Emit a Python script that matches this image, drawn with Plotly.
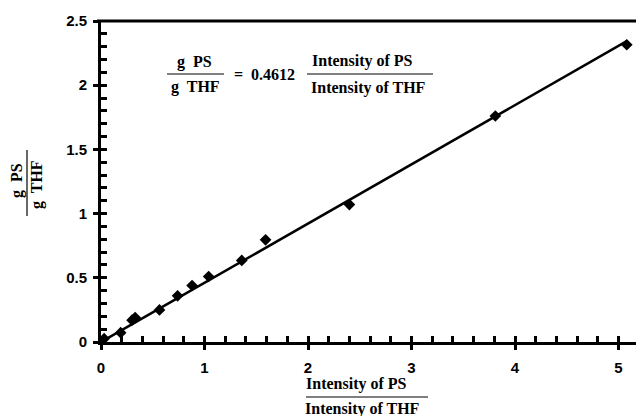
import plotly.graph_objects as go

# Data
x_ratio = [0.03, 0.19, 0.30, 0.33, 0.565, 0.74, 0.88, 1.04, 1.36, 1.59, 2.40, 3.81, 5.08]
y_ratio = [0.026, 0.073, 0.17, 0.19, 0.25, 0.36, 0.44, 0.51, 0.635, 0.796, 1.07, 1.76, 2.315]
slope = 0.4612
fit_x = [0.0, 5.08]
fit_y = [slope * v for v in fit_x]

W, H = 636, 416
ML, MR, MT, MB = 101, 0, 21, 74
PW, PH = W - ML - MR, H - MT - MB
XMAX = PW / 103.5


def px(x):
    return (x - ML) / PW


def py(y):
    return (H - MB - y) / PH


SERIF = "Liberation Serif"
SANS = "Liberation Sans"

fig = go.Figure()
fig.add_trace(go.Scatter(x=fit_x, y=fit_y, mode="lines",
                         line=dict(color="black", width=2.5), showlegend=False,
                         hoverinfo="skip"))
fig.add_trace(go.Scatter(x=x_ratio, y=y_ratio, mode="markers",
                         marker=dict(symbol="diamond", size=9, color="black"),
                         showlegend=False))
# invisible trace for overlay axes (minor ticks)
fig.add_trace(go.Scatter(x=[0], y=[0], xaxis="x2", yaxis="y2", mode="markers",
                         marker=dict(opacity=0), showlegend=False, hoverinfo="skip"))

tickfont = dict(family=SANS, size=15, color="black", weight="bold")
fig.update_layout(
    width=W, height=H,
    margin=dict(l=ML, r=MR, t=MT, b=MB),
    paper_bgcolor="white", plot_bgcolor="white",
    xaxis=dict(range=[0, XMAX], dtick=1, tick0=0, showgrid=False, zeroline=False,
               showline=True, linecolor="black", linewidth=3,
               ticks="outside", ticklen=5, tickwidth=3, tickcolor="black",
               ticklabelstandoff=5, tickfont=tickfont),
    yaxis=dict(range=[0, 2.5], dtick=0.5, tick0=0, showgrid=False, zeroline=False,
               showline=True, linecolor="black", linewidth=3,
               ticks="outside", ticklen=5, tickwidth=3, tickcolor="black",
               ticklabelstandoff=3, tickfont=tickfont),
    xaxis2=dict(range=[0, XMAX], overlaying="x", anchor="y", dtick=0.2, tick0=0,
                showgrid=False, zeroline=False, showline=False, showticklabels=False,
                ticks="inside", ticklen=6, tickwidth=3, tickcolor="black"),
    yaxis2=dict(range=[0, 2.5], overlaying="y", anchor="x", dtick=0.1, tick0=0,
                showgrid=False, zeroline=False, showline=False, showticklabels=False,
                ticks="inside", ticklen=6, tickwidth=3, tickcolor="black"),
)

ann = []


def txt(t, x, y, size=16, angle=0):
    ann.append(dict(text=t, x=px(x), y=py(y), xref="paper", yref="paper",
                    showarrow=False, xanchor="center", yanchor="middle",
                    textangle=angle,
                    font=dict(family=SERIF, size=size, color="black", weight="bold")))


shapes = []


def hline(x0, x1, y, w=1.2):
    shapes.append(dict(type="line", xref="paper", yref="paper",
                       x0=px(x0), x1=px(x1), y0=py(y), y1=py(y),
                       line=dict(color="black", width=w)))


def vline(x, y0, y1, w=1.2):
    shapes.append(dict(type="line", xref="paper", yref="paper",
                       x0=px(x), x1=px(x), y0=py(y0), y1=py(y1),
                       line=dict(color="black", width=w)))


# equation
txt("g  PS", 194, 62)
hline(167, 224, 74)
txt("g  THF", 195, 87)
txt("=  0.4612", 264, 74)
txt("Intensity of PS", 362, 61)
hline(307, 433, 74)
txt("Intensity of THF", 368, 88)

# x title
txt("Intensity of PS", 356, 384)
hline(306, 428, 397)
txt("Intensity of THF", 362, 409)

# y title
txt("g  PS", 17, 181, size=16, angle=-90)
vline(27, 150, 216)
txt("g  THF", 37, 185, size=16, angle=-90)

# top border
shapes.append(dict(type="line", xref="paper", yref="paper", x0=px(97), x1=1.0,
                   y0=1, y1=1, line=dict(color="black", width=3)))

fig.update_layout(annotations=ann, shapes=shapes)
fig.write_html("out.html")
